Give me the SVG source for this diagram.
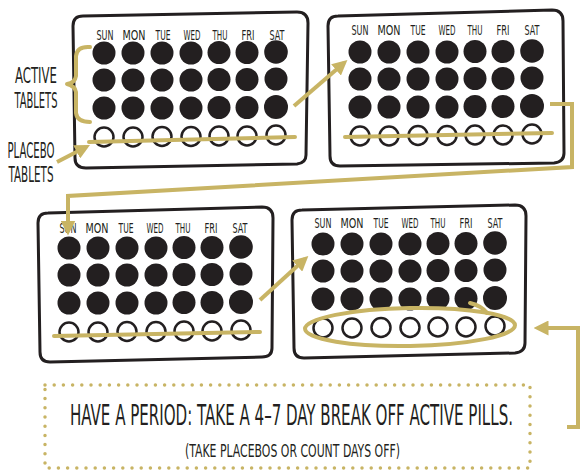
<svg xmlns="http://www.w3.org/2000/svg" width="581" height="474" viewBox="0 0 581 474">
<style>
.card{fill:#fff;stroke:#231f20;stroke-width:3;stroke-linejoin:round}
.pill{fill:#231f20}
.plc{fill:#fff;stroke:#231f20;stroke-width:2.5}
.day{font-family:"Liberation Sans Narrow","DejaVu Sans Condensed","Liberation Sans",sans-serif;font-size:14px;fill:#231f20;text-anchor:middle}
.lbl{font-family:"Liberation Sans Narrow","DejaVu Sans Condensed","Liberation Sans",sans-serif;font-size:21px;fill:#231f20;text-anchor:middle}
.big{font-family:"Liberation Sans Narrow","DejaVu Sans Condensed","Liberation Sans",sans-serif;fill:#231f20}
.gold{fill:none;stroke:#c8b464;stroke-width:4;stroke-linecap:round;stroke-linejoin:round}
.conn{fill:none;stroke:#c8b464;stroke-width:4;stroke-linejoin:miter}
</style>
<defs>
<marker id="ah" viewBox="0 0 10 10" refX="7" refY="5" markerWidth="15" markerHeight="15" markerUnits="userSpaceOnUse" orient="auto">
<path d="M0,0 L10,5 L0,10 z" fill="#c8b464"/>
</marker>
<g id="days">
<text class="day" x="0" textLength="17" lengthAdjust="spacingAndGlyphs">SUN</text>
<text class="day" x="29" textLength="23" lengthAdjust="spacingAndGlyphs">MON</text>
<text class="day" x="58" textLength="15" lengthAdjust="spacingAndGlyphs">TUE</text>
<text class="day" x="87" textLength="17" lengthAdjust="spacingAndGlyphs">WED</text>
<text class="day" x="115" textLength="15" lengthAdjust="spacingAndGlyphs">THU</text>
<text class="day" x="143" textLength="13" lengthAdjust="spacingAndGlyphs">FRI</text>
<text class="day" x="172" textLength="15" lengthAdjust="spacingAndGlyphs">SAT</text>
</g>
<g id="pills">
<circle class="pill" cx="0" cy="0" r="11.5"/><circle class="pill" cx="29" cy="0" r="11.5"/><circle class="pill" cx="58" cy="0" r="11.5"/><circle class="pill" cx="87" cy="0" r="11.5"/><circle class="pill" cx="115" cy="-0.5" r="11.5"/><circle class="pill" cx="143" cy="-0.5" r="11.5"/><circle class="pill" cx="172" cy="-1" r="11.8"/>
<circle class="pill" cx="0" cy="27" r="11.5"/><circle class="pill" cx="29" cy="27" r="11.5"/><circle class="pill" cx="58" cy="27" r="11.5"/><circle class="pill" cx="87" cy="27" r="11.5"/><circle class="pill" cx="115" cy="26.5" r="11.5"/><circle class="pill" cx="143" cy="26.5" r="11.5"/><circle class="pill" cx="172" cy="26" r="11.5"/>
<circle class="pill" cx="0" cy="55" r="11.5"/><circle class="pill" cx="29" cy="55" r="11.5"/><circle class="pill" cx="58" cy="55" r="11.5"/><circle class="pill" cx="87" cy="55" r="11.5"/><circle class="pill" cx="115" cy="54.5" r="11.5"/><circle class="pill" cx="143" cy="54.5" r="11.5"/><circle class="pill" cx="172" cy="54" r="12"/>
<circle class="plc" cx="0" cy="84" r="9.5"/><circle class="plc" cx="29" cy="84" r="9.5"/><circle class="plc" cx="58" cy="83.5" r="9.5"/><circle class="plc" cx="87" cy="83.5" r="9.5"/><circle class="plc" cx="115" cy="83" r="9.5"/><circle class="plc" cx="143" cy="83" r="9.5"/><circle class="plc" cx="172" cy="82" r="9.5"/>
</g>
</defs>

<g id="card1">
<path class="card" d="M83,16 L297,12 Q308,12 308,23 L306,155 Q306,163 297,164 L86,168 Q75,168 75,158 L73,26 Q73,16 83,16 Z"/>
<use href="#days" x="105" y="40"/>
<use href="#pills" x="104" y="53"/>
</g>

<g id="card2">
<path class="card" d="M338,16 L552,10 Q563,10 563,21 L564,153 Q564,162 554,163 L340,166 Q330,166 330,156 L328,26 Q328,16 338,16 Z"/>
<use href="#days" x="360" y="35"/>
<use href="#pills" x="360" y="52"/>
</g>

<g id="card3">
<path class="card" d="M48,213 L262,207 Q273,207 273,218 L272,348 Q272,357 262,357 L50,362 Q40,362 40,352 L38,223 Q38,213 48,213 Z"/>
<use href="#days" x="68" y="233"/>
<use href="#pills" x="69" y="248"/>
</g>

<g id="card4">
<path class="card" d="M302,210 L515,205 Q526,205 526,216 L525,343 Q525,352 515,353 L304,358 Q294,358 294,348 L292,220 Q292,210 302,210 Z"/>
<use href="#days" x="323" y="228"/>
<use href="#pills" x="323" y="244"/>
</g>

<g id="labels">
<text class="lbl" x="36" y="83" textLength="42" lengthAdjust="spacingAndGlyphs">ACTIVE</text>
<text class="lbl" x="36" y="108" textLength="43" lengthAdjust="spacingAndGlyphs">TABLETS</text>
<text class="lbl" x="31" y="158" textLength="47" lengthAdjust="spacingAndGlyphs">PLACEBO</text>
<text class="lbl" x="31" y="182" textLength="45" lengthAdjust="spacingAndGlyphs">TABLETS</text>
</g>

<g id="annotations">
<path class="gold" d="M90,47 Q77,46 76,56 L76,76 Q75,83 67,84 Q75,86 76,92 L76,113 Q77,122 90,122"/>
<path class="gold" d="M89,142 L295,137"/>
<path class="gold" d="M345,137 L552,133"/>
<path class="gold" d="M54,336 L260,332"/>
<path class="gold" d="M470,303 Q482,306 487,313"/>
<ellipse class="gold" cx="410" cy="327" rx="105" ry="19" transform="rotate(-1 410 327)"/>
</g>

<g id="connectors">
<path class="conn" d="M57,162 L86,147" marker-end="url(#ah)"/>
<path class="conn" d="M294,106 L344,63" marker-end="url(#ah)"/>
<path class="conn" d="M550,104 L572,104 L572,167 L68,196 L68,231" marker-end="url(#ah)"/>
<path class="conn" d="M260,300 L305,259" marker-end="url(#ah)"/>
<path class="conn" d="M567,427 L578,427 L578,328 L538,328" marker-end="url(#ah)"/>
</g>

<g id="note">
<rect x="45" y="385" width="485" height="83" fill="none" stroke="#c8b464" stroke-width="3.5" stroke-linecap="round" stroke-dasharray="0 9.2"/>
<text class="big" transform="translate(70,425) scale(1,1.65)" x="0" y="0" font-size="17" textLength="443" lengthAdjust="spacingAndGlyphs">HAVE A PERIOD: TAKE A 4–7 DAY BREAK OFF ACTIVE PILLS.</text>
<text class="big" x="185" y="457" font-size="18" textLength="215" lengthAdjust="spacingAndGlyphs">(TAKE PLACEBOS OR COUNT DAYS OFF)</text>
</g>
</svg>
